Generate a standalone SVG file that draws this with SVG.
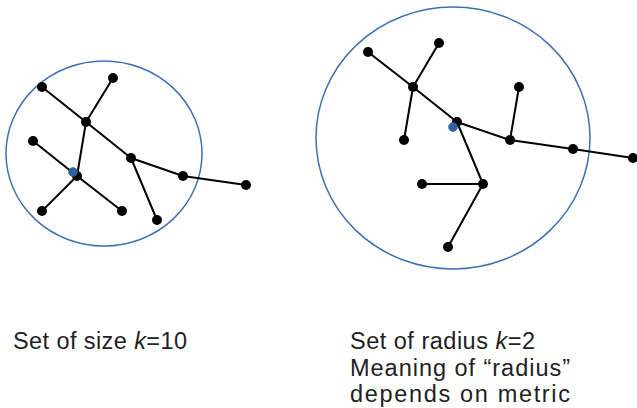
<svg xmlns="http://www.w3.org/2000/svg" width="637" height="408" viewBox="0 0 637 408">
<style>
.ring{fill:none;stroke:#3a70b8;stroke-width:1.5}
.e{stroke:#000;stroke-width:2;fill:none}
.n{fill:#000}
.b{fill:#2a63a8;stroke:#555;stroke-width:0.5}
.t{font-family:"Liberation Sans",Arial,sans-serif;font-size:23.5px;fill:#222}
</style>
<rect width="637" height="408" fill="#fff"/>
<g id="ring-left"><ellipse class="ring" cx="104" cy="153.5" rx="98" ry="92.5"/></g>
<g id="ring-right"><ellipse class="ring" cx="453" cy="138" rx="137" ry="131"/></g>
<g id="connectors">
<line class="e" x1="42" y1="87" x2="86" y2="122"/>
<line class="e" x1="113" y1="78" x2="86" y2="122"/>
<line class="e" x1="86" y1="122" x2="77" y2="176"/>
<line class="e" x1="86" y1="122" x2="131" y2="158"/>
<line class="e" x1="33" y1="141" x2="77" y2="176"/>
<line class="e" x1="77" y1="176" x2="42" y2="211"/>
<line class="e" x1="77" y1="176" x2="122" y2="211"/>
<line class="e" x1="131" y1="158" x2="183" y2="176"/>
<line class="e" x1="183" y1="176" x2="246" y2="185"/>
<line class="e" x1="131" y1="158" x2="157" y2="220"/>
<line class="e" x1="368" y1="52" x2="413" y2="87"/>
<line class="e" x1="439" y1="43" x2="413" y2="87"/>
<line class="e" x1="413" y1="87" x2="404" y2="140"/>
<line class="e" x1="413" y1="87" x2="457" y2="122"/>
<line class="e" x1="457" y1="122" x2="510" y2="140"/>
<line class="e" x1="510" y1="140" x2="519" y2="87"/>
<line class="e" x1="510" y1="140" x2="573" y2="149"/>
<line class="e" x1="573" y1="149" x2="633" y2="158"/>
<line class="e" x1="457" y1="122" x2="483" y2="184"/>
<line class="e" x1="483" y1="184" x2="422" y2="184"/>
<line class="e" x1="483" y1="184" x2="448" y2="247"/>
</g>
<g id="node-l1"><circle class="n" cx="42" cy="87" r="5"/></g>
<g id="node-l2"><circle class="n" cx="113" cy="78" r="5"/></g>
<g id="node-l3"><circle class="n" cx="86" cy="122" r="5"/></g>
<g id="node-l4"><circle class="n" cx="33" cy="141" r="5"/></g>
<g id="node-l5"><circle class="n" cx="77" cy="176" r="5"/><circle class="b" cx="73" cy="172" r="4.5"/></g>
<g id="node-l6"><circle class="n" cx="131" cy="158" r="5"/></g>
<g id="node-l7"><circle class="n" cx="183" cy="176" r="5"/></g>
<g id="node-l8"><circle class="n" cx="246" cy="185" r="5"/></g>
<g id="node-l9"><circle class="n" cx="42" cy="211" r="5"/></g>
<g id="node-l10"><circle class="n" cx="122" cy="211" r="5"/></g>
<g id="node-l11"><circle class="n" cx="157" cy="220" r="5"/></g>
<g id="node-r1"><circle class="n" cx="368" cy="52" r="5"/></g>
<g id="node-r2"><circle class="n" cx="439" cy="43" r="5"/></g>
<g id="node-r3"><circle class="n" cx="413" cy="87" r="5"/></g>
<g id="node-r4"><circle class="n" cx="404" cy="140" r="5"/></g>
<g id="node-r5"><circle class="n" cx="457" cy="122" r="5"/><circle class="b" cx="453" cy="127" r="4.5"/></g>
<g id="node-r6"><circle class="n" cx="519" cy="87" r="5"/></g>
<g id="node-r7"><circle class="n" cx="510" cy="140" r="5"/></g>
<g id="node-r8"><circle class="n" cx="573" cy="149" r="5"/></g>
<g id="node-r9"><circle class="n" cx="633" cy="158" r="5"/></g>
<g id="node-r10"><circle class="n" cx="483" cy="184" r="5"/></g>
<g id="node-r11"><circle class="n" cx="422" cy="184" r="5"/></g>
<g id="node-r12"><circle class="n" cx="448" cy="247" r="5"/></g>
<g id="labels">
<text class="t" x="13" y="349" textLength="174" lengthAdjust="spacing">Set of size <tspan font-style="italic">k</tspan>=10</text>
<text class="t" x="350" y="349" textLength="185" lengthAdjust="spacing">Set of radius <tspan font-style="italic">k</tspan>=2</text>
<text class="t" x="350" y="375.5" textLength="220" lengthAdjust="spacing">Meaning of “radius”</text>
<text class="t" x="350" y="402" textLength="220" lengthAdjust="spacing">depends on metric</text>
</g>
</svg>
